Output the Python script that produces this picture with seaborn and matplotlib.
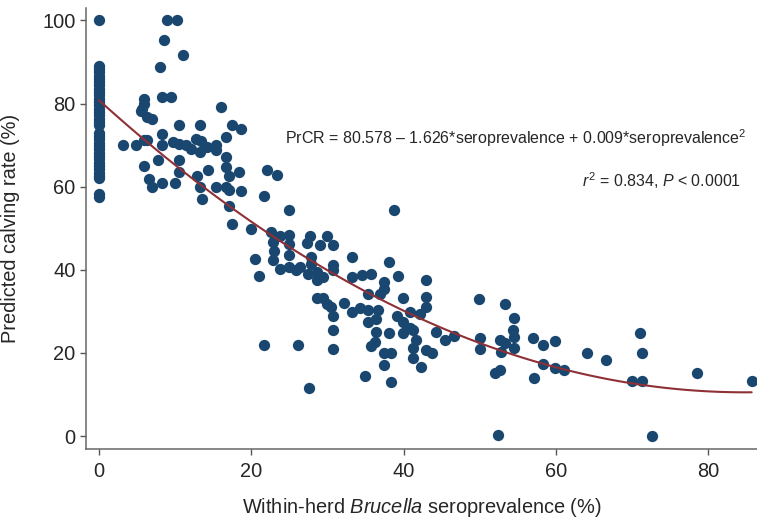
import seaborn as sns
import matplotlib.pyplot as plt
import numpy as np
import pandas as pd

# herds with zero seroprevalence
zero_rate = [100, 89, 88.3, 87.5, 86.7, 86, 85.2, 84.4, 83.6, 82.8, 82, 81.2, 80.4,
             79.6, 78.8, 78, 77.2, 76.4, 75.6, 74.8, 73, 72.2, 71.4, 70.6, 69.8, 69,
             68.2, 67.4, 66.6, 65.8, 65, 64.2, 63.4, 62.6, 62, 58.3, 57.5]

# herds with some seroprevalence (x = seroprevalence %, y = predicted calving rate %)
serop = [9.0, 10.2, 8.6, 11.0, 8.0, 5.9, 5.9, 5.7, 5.55, 6.3, 7.0, 8.3, 9.5, 16.0,
         10.5, 13.3, 17.5, 18.7, 8.3, 16.7, 3.1, 4.9, 5.9, 6.3, 8.3, 9.75, 10.5, 11.4,
         12.1, 12.8, 13.4, 13.3, 14.2, 15.4, 15.4, 16.7, 7.7, 10.5, 5.9, 16.7, 14.3,
         10.5, 12.9, 17.1, 18.4, 6.6, 7.0, 8.3, 10.0, 13.3, 15.4, 16.7, 17.1, 18.7,
         13.5, 17.1,
         22.1, 23.4, 21.7, 24.9, 17.5, 19.9, 22.6, 23.75, 24.9, 22.9, 24.9, 23.0, 24.9,
         22.9, 20.5, 21.0, 23.75, 24.9, 26.4, 25.9, 27.7, 27.3, 29.0, 30.0, 30.75, 27.8,
         27.8, 27.5, 28.6, 28.6, 29.4, 30.75, 30.75, 33.2, 33.2, 34.6, 35.7, 38.1, 39.3,
         37.4, 37.4, 36.9, 35.3, 39.9, 28.6, 29.4, 30.0, 30.5, 30.75, 32.2, 33.2, 34.3,
         35.3, 36.7, 35.3, 36.35, 39.1, 39.9, 39.9, 38.1, 36.35, 35.7, 36.2, 30.75,
         21.65, 26.2, 30.75, 37.4, 38.4, 37.4, 34.9, 38.7, 27.6,
         42.9, 42.9, 40.8, 42.1, 42.9, 40.8, 41.2, 41.6, 41.2, 41.2, 42.9, 43.7, 42.3,
         38.4, 44.3, 45.4, 46.6, 49.9, 50.0, 50.0, 52.0, 52.6, 52.4, 53.3, 54.5, 54.4,
         54.5, 54.5, 52.6, 53.3, 52.8, 57.0, 58.3, 59.9, 58.3, 59.9, 61.1, 57.1, 64.1,
         66.6, 71.0, 71.3, 70.0, 71.3, 78.5, 85.7, 72.6]
rate = [100, 100, 95.4, 91.6, 88.8, 81.2, 80, 78.8, 78.2, 76.9, 76.4, 81.7, 81.7, 79.1,
        74.8, 74.8, 74.8, 73.9, 72.7, 71.9, 70, 70, 71.3, 71.3, 70, 70.7, 70.4, 70,
        69.2, 71.6, 70.9, 68.3, 69.5, 70, 68.8, 67.1, 66.5, 66.5, 64.9, 64.7, 64.1,
        63.5, 62.6, 62.7, 63.5, 61.9, 59.9, 61, 61, 59.9, 59.9, 59.9, 59.1, 58.9,
        57, 55.3,
        64.1, 62.9, 57.7, 54.5, 51.1, 49.9, 49.0, 48.1, 48.5, 46.7, 46.3, 44.5, 43.5,
        42.3, 42.5, 38.5, 40.1, 40.7, 40.7, 39.9, 48.1, 46.5, 46.1, 48.1, 46.1, 43.1,
        41.5, 38.9, 39.5, 37.5, 38.3, 41.1, 39.9, 43.0, 38.3, 38.7, 38.9, 41.9, 38.5,
        37.1, 35.5, 34.1, 34.1, 33.3, 33.3, 33.3, 31.9, 31.1, 28.8, 32.1, 29.9, 30.9,
        30.3, 30.3, 27.4, 28.1, 28.8, 27.5, 24.8, 24.8, 25.1, 21.8, 22.7, 25.5,
        22.0, 22.0, 21.0, 20.0, 20.0, 17.1, 14.4, 54.5, 11.6,
        37.5, 33.5, 29.9, 29.3, 31.1, 25.9, 25.5, 23.2, 21.1, 18.9, 20.8, 20.0, 16.7,
        12.9, 25.1, 23.2, 24.0, 33.1, 23.5, 20.9, 15.2, 16.0, 0.2, 31.9, 28.4, 25.5,
        23.9, 21.1, 23.2, 22.4, 20.3, 23.6, 22.0, 22.8, 17.3, 16.3, 15.9, 14.1, 20.0,
        18.4, 24.9, 20.0, 13.3, 13.3, 15.2, 13.3, 0.0]

equation = r'PrCR = 80.578 – 1.626*seroprevalence + 0.009*seroprevalence$^{2}$'
fit_stats = r'$\it{r}^{2}$ = 0.834, $\it{P}$ < 0.0001'

df = pd.DataFrame({
    'serop': [0.0] * len(zero_rate) + serop,
    'rate': zero_rate + rate,
})

sns.set_theme(style='white')
plt.rcParams['font.family'] = ['Liberation Sans', 'DejaVu Sans']
plt.rcParams['mathtext.fontset'] = 'custom'
plt.rcParams['mathtext.rm'] = 'Liberation Sans'
plt.rcParams['mathtext.it'] = 'Liberation Sans:italic'

fig = plt.figure(figsize=(7.57, 5.21), dpi=100)
ax = fig.add_axes([0.1136, 0.1382, 0.8864, 0.8464])

sns.scatterplot(data=df, x='serop', y='rate', ax=ax, s=66, color='#1A476F',
                linewidth=0, zorder=2)
# quadratic fit drawn on top of the points
sns.regplot(data=df, x='serop', y='rate', ax=ax, order=2, ci=None, scatter=False,
            line_kws={'color': '#8E3036', 'lw': 1.5, 'zorder': 3})

ax.set_xlim(-1.7, 86.4)
ax.set_ylim(-3.1, 103)
ax.set_xticks([0, 20, 40, 60, 80])
ax.set_yticks([0, 20, 40, 60, 80, 100])
ax.tick_params(axis='both', direction='out', length=4.5, width=1, color='#555555',
               labelsize=14.4, pad=3, left=True, bottom=True)
ax.tick_params(axis='x', pad=5)

sns.despine(ax=ax)
for side in ['left', 'bottom']:
    ax.spines[side].set_color('#666666')
    ax.spines[side].set_linewidth(1.1)

ax.set_ylabel('Predicted calving rate (%)', fontsize=14.4)
ax.yaxis.set_label_coords(-0.0985, 0.5)
ax.set_xlabel(r'Within-herd $\it{Brucella}$ seroprevalence (%)', fontsize=14.4)
ax.xaxis.set_label_coords(0.5, -0.106)

ax.text(85.0, 71.6, equation, ha='right', va='center', fontsize=11.5)
ax.text(84.3, 61.5, fit_stats, ha='right', va='center', fontsize=11.5)

fig.savefig('out.png', dpi=100)
